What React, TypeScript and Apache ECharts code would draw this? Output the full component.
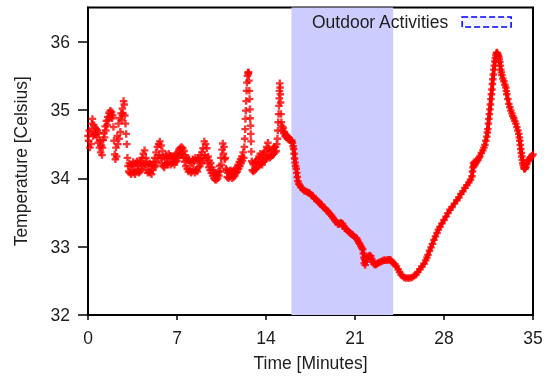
import React, { useEffect, useRef } from "react";
import * as echarts from "echarts";

// Time [minutes], temperature [°C]
const restReadings: [number, number][] = [
  [0.00,34.62],[0.05,34.55],[0.10,34.70],[0.15,34.45],[0.20,34.68],[0.25,34.50],[0.30,34.80],[0.35,34.87],[0.40,34.62],[0.45,34.78],
  [0.50,34.65],[0.55,34.74],[0.60,34.64],[0.65,34.72],[0.70,34.60],[0.75,34.70],[0.80,34.52],[0.85,34.66],[0.90,34.45],[0.95,34.55],
  [1.00,34.38],[1.05,34.48],[1.10,34.34],[1.15,34.45],[1.20,34.56],[1.25,34.66],[1.30,34.60],[1.35,34.76],[1.40,34.70],[1.45,34.84],
  [1.50,34.78],[1.55,34.90],[1.60,34.85],[1.65,34.96],[1.70,34.90],[1.75,34.99],[1.80,34.93],[1.85,34.97],[1.90,34.88],[1.95,34.92],
  [2.00,34.75],[2.05,34.55],[2.10,34.35],[2.15,34.28],[2.20,34.45],[2.25,34.32],[2.30,34.62],[2.35,34.50],[2.40,34.80],[2.45,34.58],
  [2.50,34.88],[2.55,34.68],[2.60,34.95],[2.65,34.85],[2.70,35.02],[2.75,34.95],[2.80,35.13],[2.85,35.08],[2.90,34.92],[2.95,34.80],
  [3.00,34.65],[3.05,34.50],[3.10,34.30],[3.15,34.18],[3.20,34.10],[3.25,34.22],[3.30,34.08],[3.35,34.18],[3.40,34.06],[3.45,34.20],
  [3.50,34.12],[3.55,34.24],[3.60,34.08],[3.65,34.18],[3.70,34.06],[3.75,34.22],[3.80,34.10],[3.85,34.25],[3.90,34.12],[3.95,34.20],
  [4.00,34.08],[4.05,34.23],[4.10,34.10],[4.15,34.26],[4.20,34.14],[4.25,34.30],[4.30,34.18],[4.35,34.36],[4.40,34.22],[4.45,34.41],
  [4.50,34.20],[4.55,34.30],[4.60,34.12],[4.65,34.24],[4.70,34.08],[4.75,34.20],[4.80,34.10],[4.85,34.22],[4.90,34.08],[4.95,34.18],
  [5.00,34.06],[5.05,34.20],[5.10,34.12],[5.15,34.24],[5.20,34.16],[5.25,34.30],[5.30,34.18],[5.35,34.38],[5.40,34.24],[5.45,34.46],
  [5.50,34.30],[5.55,34.50],[5.60,34.34],[5.65,34.54],[5.70,34.30],[5.75,34.48],[5.80,34.22],[5.85,34.40],[5.90,34.18],[5.95,34.32],
  [6.00,34.16],[6.05,34.28],[6.10,34.20],[6.15,34.34],[6.20,34.22],[6.25,34.30],[6.30,34.20],[6.35,34.36],[6.40,34.24],[6.45,34.33],
  [6.50,34.20],[6.55,34.30],[6.60,34.22],[6.65,34.32],[6.70,34.24],[6.75,34.30],[6.80,34.20],[6.85,34.32],[6.90,34.24],[6.95,34.36],
  [7.00,34.26],[7.05,34.38],[7.10,34.30],[7.15,34.42],[7.20,34.34],[7.25,34.44],[7.30,34.36],[7.35,34.46],[7.40,34.35],[7.45,34.44],
  [7.50,34.30],[7.55,34.40],[7.60,34.24],[7.65,34.34],[7.70,34.18],[7.75,34.30],[7.80,34.14],[7.85,34.26],[7.90,34.10],[7.95,34.28],
  [8.00,34.12],[8.05,34.24],[8.10,34.08],[8.15,34.22],[8.20,34.10],[8.25,34.28],[8.30,34.14],[8.35,34.25],[8.40,34.08],[8.45,34.30],
  [8.50,34.12],[8.55,34.26],[8.60,34.10],[8.65,34.30],[8.70,34.16],[8.75,34.28],[8.80,34.18],[8.85,34.34],[8.90,34.22],[8.95,34.38],
  [9.00,34.26],[9.05,34.44],[9.10,34.30],[9.15,34.54],[9.20,34.34],[9.25,34.50],[9.30,34.30],[9.35,34.44],[9.40,34.22],[9.45,34.32],
  [9.50,34.16],[9.55,34.26],[9.60,34.12],[9.65,34.22],[9.70,34.08],[9.75,34.16],[9.80,34.04],[9.85,34.12],[9.90,34.00],[9.95,34.08],
  [10.00,33.98],[10.05,34.05],[10.10,33.98],[10.15,34.04],[10.20,34.00],[10.25,34.10],[10.30,34.04],[10.35,34.18],[10.40,34.10],[10.45,34.30],
  [10.50,34.20],[10.55,34.42],[10.60,34.51],[10.65,34.36],[10.70,34.46],[10.75,34.28],[10.80,34.30],[10.85,34.14],[10.90,34.12],[10.95,34.02],
  [11.00,34.08],[11.05,34.00],[11.10,34.10],[11.15,34.02],[11.20,34.12],[11.25,34.04],[11.30,34.10],[11.35,34.00],[11.40,34.08],[11.45,34.02],
  [11.50,34.10],[11.55,34.04],[11.60,34.14],[11.65,34.08],[11.70,34.16],[11.75,34.10],[11.80,34.20],[11.85,34.14],[11.90,34.24],[11.95,34.18],
  [12.00,34.28],[12.05,34.22],[12.10,34.32],[12.15,34.26],[12.20,34.38],[12.25,34.30],[12.30,34.46],[12.33,34.58],[12.36,34.72],[12.38,34.87],
  [12.41,34.99],[12.44,35.13],[12.47,35.28],[12.50,35.40],[12.54,35.50],[12.58,35.55],[12.61,35.53],[12.64,35.55],[12.66,35.43],[12.69,35.28],
  [12.71,35.16],[12.74,35.01],[12.76,34.88],[12.78,34.77],[12.80,34.65],[12.82,34.54],[12.85,34.39],[12.88,34.25],[12.92,34.12],[12.96,34.22],
  [13.00,34.10],[13.05,34.20],[13.10,34.12],[13.15,34.24],[13.20,34.14],[13.25,34.26],[13.30,34.16],[13.35,34.28],[13.40,34.18],[13.45,34.32],
  [13.50,34.20],[13.55,34.36],[13.60,34.22],[13.65,34.30],[13.70,34.20],[13.75,34.34],[13.80,34.24],[13.85,34.38],[13.90,34.26],[13.95,34.40],
  [14.00,34.28],[14.05,34.46],[14.10,34.32],[14.15,34.52],[14.20,34.34],[14.25,34.44],[14.30,34.30],[14.35,34.40],[14.40,34.32],[14.45,34.42],
  [14.50,34.34],[14.55,34.44],[14.60,34.36],[14.65,34.45],[14.70,34.38],[14.75,34.46],[14.80,34.40],[14.85,34.50],[14.90,34.58],[14.93,34.70],
  [14.96,34.82],[14.99,34.94],[15.02,35.06],[15.04,35.17],[15.06,35.28],[15.08,35.39],[15.11,35.33],[15.13,35.23],[15.15,35.11],[15.18,34.94],
  [15.21,34.82],[15.25,34.76],[15.30,34.70],[15.35,34.74],[15.40,34.66],[15.45,34.68],[15.50,34.62],[15.55,34.64],[15.60,34.60],[15.65,34.62],
  [15.70,34.58],[15.75,34.60],[15.80,34.57],[15.85,34.58],[15.90,34.56],[15.95,34.56],[16.00,34.55],
];

const activityReadings: [number, number][] = [
  [16.02,34.55],[16.08,34.52],[16.13,34.47],[16.17,34.43],[16.21,34.36],[16.25,34.29],[16.29,34.23],[16.33,34.18],[16.38,34.14],[16.42,34.08],
  [16.46,34.02],[16.51,33.96],[16.58,33.92],[16.65,33.90],[16.75,33.87],[16.89,33.84],[17.00,33.82],[17.13,33.81],[17.25,33.80],[17.35,33.79],
  [17.44,33.78],[17.55,33.76],[17.68,33.74],[17.80,33.71],[17.90,33.70],[17.99,33.68],[18.10,33.66],[18.20,33.64],[18.30,33.62],[18.39,33.61],
  [18.50,33.58],[18.62,33.56],[18.74,33.54],[18.86,33.52],[18.97,33.49],[19.07,33.47],[19.17,33.45],[19.28,33.42],[19.41,33.39],[19.52,33.36],
  [19.65,33.33],[19.73,33.33],[19.80,33.34],[19.88,33.35],[19.96,33.34],[20.04,33.33],[20.12,33.30],[20.20,33.27],[20.28,33.26],[20.40,33.24],
  [20.51,33.22],[20.62,33.20],[20.72,33.18],[20.83,33.17],[20.95,33.15],[21.05,33.13],[21.14,33.12],[21.22,33.09],[21.30,33.06],[21.38,33.04],
  [21.46,33.01],[21.54,32.98],[21.61,32.96],[21.66,32.90],[21.70,32.84],[21.73,32.76],[21.77,32.81],[21.80,32.73],[21.85,32.78],[21.89,32.82],
  [21.93,32.83],[22.00,32.85],[22.09,32.86],[22.16,32.87],[22.24,32.86],[22.32,32.82],[22.40,32.78],[22.48,32.75],[22.56,32.74],[22.64,32.74],
  [22.72,32.75],[22.80,32.76],[22.90,32.77],[23.03,32.78],[23.15,32.79],[23.27,32.80],[23.38,32.80],[23.50,32.80],[23.62,32.81],[23.74,32.81],
  [23.82,32.80],[23.90,32.78],[24.00,32.76],
];

const recoveryReadings: [number, number][] = [
  [24.15,32.74],[24.26,32.71],[24.39,32.67],[24.50,32.63],[24.62,32.59],[24.74,32.57],[24.86,32.55],[25.00,32.54],[25.17,32.54],[25.32,32.54],
  [25.49,32.55],[25.64,32.57],[25.80,32.59],[25.94,32.63],[26.11,32.67],[26.26,32.71],[26.43,32.75],[26.56,32.80],[26.66,32.84],[26.74,32.88],
  [26.86,32.94],[26.98,32.99],[27.09,33.04],[27.21,33.10],[27.33,33.15],[27.45,33.20],[27.56,33.25],[27.68,33.29],[27.84,33.34],[28.00,33.39],
  [28.16,33.44],[28.31,33.49],[28.47,33.54],[28.63,33.58],[28.82,33.63],[29.02,33.68],[29.17,33.72],[29.33,33.77],[29.49,33.81],[29.65,33.86],
  [29.80,33.90],[29.96,33.94],[30.08,33.98],[30.20,34.03],[30.24,34.10],[30.28,34.16],[30.32,34.22],[30.35,34.18],[30.40,34.24],[30.44,34.20],
  [30.51,34.23],[30.59,34.25],[30.67,34.27],[30.74,34.30],[30.82,34.32],[30.94,34.37],[31.06,34.41],[31.14,34.45],[31.22,34.49],[31.29,34.55],
  [31.37,34.61],[31.41,34.67],[31.45,34.72],[31.49,34.80],[31.53,34.87],[31.57,34.94],[31.61,35.01],[31.65,35.08],[31.69,35.16],[31.73,35.23],
  [31.77,35.30],[31.81,35.38],[31.84,35.45],[31.88,35.52],[31.92,35.59],[31.96,35.65],[32.00,35.71],[32.04,35.76],[32.08,35.80],[32.12,35.83],
  [32.16,35.84],[32.20,35.83],[32.24,35.81],[32.28,35.79],[32.31,35.77],[32.35,35.74],[32.39,35.70],[32.43,35.65],[32.47,35.59],[32.51,35.55],
  [32.55,35.51],[32.63,35.46],[32.71,35.42],[32.79,35.37],[32.86,35.33],[32.90,35.28],[32.94,35.23],[33.02,35.16],[33.10,35.09],[33.18,35.04],
  [33.26,34.99],[33.34,34.95],[33.41,34.91],[33.49,34.88],[33.57,34.84],[33.65,34.80],[33.73,34.75],[33.81,34.70],[33.88,34.65],[33.92,34.60],
  [33.96,34.55],[34.00,34.49],[34.04,34.43],[34.08,34.37],[34.12,34.32],[34.16,34.27],[34.20,34.22],[34.24,34.19],[34.28,34.16],[34.32,34.14],
  [34.36,34.14],[34.40,34.15],[34.44,34.17],[34.52,34.21],[34.60,34.25],[34.67,34.27],[34.75,34.29],[34.83,34.31],[34.91,34.33],[35.00,34.35],
];

const activitySpan = [16, 24];
const activityLabel = "Outdoor Activities";
const yTickValues = [32, 33, 34, 35, 36];
const xTickStep = 7;

export default function App() {
  const ref = useRef<HTMLDivElement>(null);
  useEffect(() => {
    const chart = echarts.init(ref.current!, null, { renderer: "svg" });
    const font = "'Liberation Sans', Arial, Helvetica, sans-serif";
    const plus = "path://M2.4,0h2.2v2.4h2.4v2.2h-2.4v2.4h-2.2v-2.4h-2.4v-2.2h2.4z";
    const textColor = "#1e1e1e";
    chart.setOption({
      animation: false,
      textStyle: { fontFamily: font },
      grid: {
        left: 88,
        right: 14,
        top: 7.5,
        bottom: 59,
        show: true,
        borderColor: "#000",
        borderWidth: 2,
        backgroundColor: "transparent",
      },
      legend: {
        show: true,
        left: 306,
        top: 8,
        align: "right",
        itemWidth: 49,
        itemHeight: 10,
        selectedMode: false,
        textStyle: { fontSize: 17.5, color: textColor, fontFamily: font, padding: [0, 9, 0, 0] },
        data: [
          {
            name: activityLabel,
            icon: "rect",
            itemStyle: { color: "#f4f4ff", borderColor: "#0000ff", borderWidth: 1.5, borderType: "dashed" },
          },
        ],
      },
      xAxis: {
        type: "value",
        min: 0,
        max: 35,
        interval: xTickStep,
        name: "Time [Minutes]",
        nameLocation: "middle",
        nameGap: 39,
        nameTextStyle: { fontSize: 17.5, color: textColor, fontFamily: font },
        axisLine: { show: true, lineStyle: { color: "#000", width: 2 } },
        axisTick: { show: true, length: 5, lineStyle: { color: "#000", width: 1.5 } },
        axisLabel: { fontSize: 17.5, color: textColor, margin: 14, fontFamily: font },
        splitLine: { show: false },
      },
      yAxis: {
        type: "value",
        min: 32,
        max: 36.5,
        interval: 1,
        name: "Temperature [Celsius]",
        nameLocation: "middle",
        nameGap: 58,
        nameTextStyle: { fontSize: 17.5, color: textColor, fontFamily: font },
        axisLine: { show: true, lineStyle: { color: "#000", width: 2 } },
        axisTick: { show: true, length: 10, customValues: yTickValues, lineStyle: { color: "#000", width: 1.5 } },
        axisLabel: { fontSize: 17.5, color: textColor, margin: 18, customValues: yTickValues, fontFamily: font },
        splitLine: { show: false },
      },
      series: [
        {
          name: activityLabel,
          type: "line",
          data: [],
          z: 1,
          silent: true,
          markArea: {
            silent: true,
            itemStyle: { color: "#ccccff" },
            data: [[{ xAxis: activitySpan[0] }, { xAxis: activitySpan[1] }]],
          },
        },
        {
          name: "trace",
          type: "line",
          data: [...activityReadings, ...recoveryReadings],
          showSymbol: false,
          silent: true,
          z: 2,
          lineStyle: { color: "#ff0000", width: 4 },
        },
        {
          name: "Temperature",
          type: "scatter",
          data: [...restReadings, ...activityReadings, ...recoveryReadings],
          symbol: plus,
          symbolSize: 7.5,
          clip: false,
          silent: true,
          z: 3,
          itemStyle: { color: "#ff0000" },
        },
      ],
    });
    return () => chart.dispose();
  }, []);
  return (
    <div
      ref={ref}
      style={{ position: "fixed", left: 0, top: 0, width: 547, height: 377 }}
    />
  );
}
